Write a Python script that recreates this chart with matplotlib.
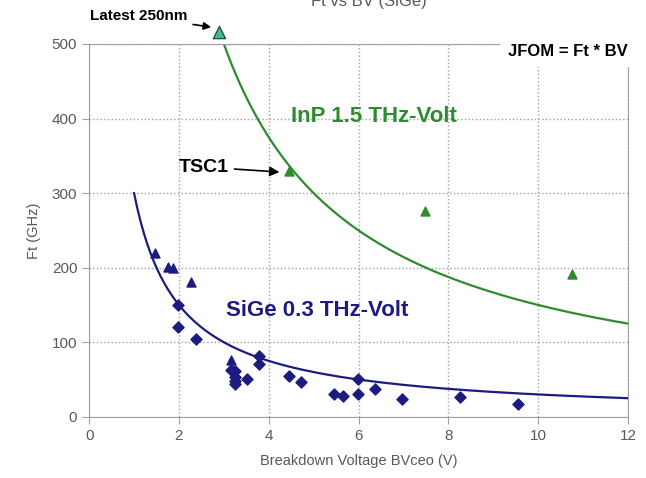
import numpy as np
import matplotlib.pyplot as plt

plt.rcParams['font.family'] = ['Liberation Sans', 'DejaVu Sans']

# SiGe devices (diamonds)
sige_bv = [1.98, 1.98, 2.38, 3.16, 3.25, 3.25, 3.25, 3.25, 3.52, 3.79, 3.79,
           4.45, 4.72, 5.46, 5.66, 5.99, 5.99, 6.37, 6.97, 8.26, 9.55]
sige_ft = [150, 121, 105, 63, 62, 54, 48, 44, 51, 82, 71,
           55, 47, 31, 28, 51, 31, 37, 24, 27, 17]
# SiGe devices (triangles)
sige_tri_bv = [1.47, 1.76, 1.87, 2.27, 3.16]
sige_tri_ft = [220, 201, 200, 181, 76]

# InP devices
inp_bv = [4.45, 7.48, 10.76]
inp_ft = [330, 276, 192]
latest_bv = 2.9
latest_ft = 516

# JFOM curves (GHz * V)
jfom_inp = 1500
jfom_sige = 300

green = '#2e8b2e'
navy = '#1c1c80'
gray = '#595959'

fig = plt.figure(figsize=(6.46, 4.78), dpi=100)
ax = fig.add_axes([0.138, 0.128, 0.834, 0.78])

x_inp = np.linspace(jfom_inp / 500, 12, 300)
ax.plot(x_inp, jfom_inp / x_inp, color=green, lw=1.6)
x_sige = np.linspace(1, 12, 300)
ax.plot(x_sige, jfom_sige / x_sige, color=navy, lw=1.6)

ax.scatter(sige_bv, sige_ft, marker='D', s=32, color=navy, zorder=3)
ax.scatter(sige_tri_bv, sige_tri_ft, marker='^', s=42, color=navy, zorder=3)
ax.scatter(inp_bv, inp_ft, marker='^', s=42, color=green, zorder=3)
ax.scatter([latest_bv], [latest_ft], marker='^', s=80, color='#3cb89a',
           edgecolor='#1a3a30', linewidth=0.8, zorder=4, clip_on=False)

ax.set_xlim(0, 12)
ax.set_ylim(0, 500)
ax.set_xticks(range(0, 13, 2))
ax.set_yticks(range(0, 501, 100))
ax.grid(True, color='#a0a0a0', linestyle=':', linewidth=1)
ax.set_axisbelow(True)
for s in ax.spines.values():
    s.set_color('#a0a0a0')
ax.tick_params(colors=gray, labelsize=11, length=5, color='#a0a0a0')
ax.set_xlabel('Breakdown Voltage BVceo (V)', color=gray, fontsize=10.5, labelpad=8)
ax.set_ylabel('Ft (GHz)', color=gray, fontsize=10.5, labelpad=8)

# title is cut off at the top edge of the original picture
ax.text(0.52, 1.115, 'Ft vs BV (SiGe)', transform=ax.transAxes, ha='center',
        va='center', fontsize=12, color=gray)

ax.text(4.5, 395, 'InP 1.5 THz-Volt', color=green, fontsize=16, fontweight='bold')
ax.text(3.05, 135, 'SiGe 0.3 THz-Volt', color=navy, fontsize=16, fontweight='bold')
ax.annotate('TSC1', xy=(4.3, 328), xytext=(2, 335), fontsize=14,
            fontweight='bold', va='center',
            arrowprops=dict(arrowstyle='-|>', color='black', lw=1.2))
ax.annotate('Latest 250nm', xy=(2.78, 522), xytext=(0.02, 537), fontsize=11,
            fontweight='bold', va='center', annotation_clip=False,
            arrowprops=dict(arrowstyle='-|>', color='black', lw=1.2))
ax.text(12.0, 490, 'JFOM = Ft * BV', ha='right', va='center', fontsize=12,
        fontweight='bold', color='black',
        bbox=dict(facecolor='white', edgecolor='none', pad=6), zorder=5)

fig.savefig('out.png', dpi=100)
